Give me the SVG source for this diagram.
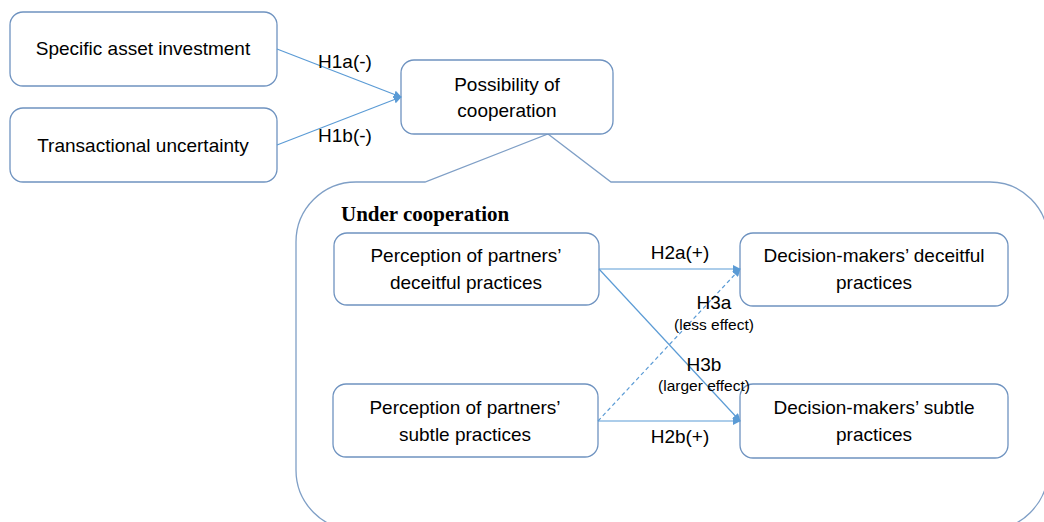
<svg xmlns="http://www.w3.org/2000/svg" width="1044" height="522" viewBox="0 0 1044 522">
<defs>
<marker id="ah" viewBox="0 0 10 10" refX="9" refY="5" markerWidth="8" markerHeight="8" markerUnits="userSpaceOnUse" orient="auto">
<path d="M0,0 L10,5 L0,10 z" fill="#5b9bd5"/>
</marker>
<style>
.box{fill:#fff;stroke:#6f93c0;stroke-width:1.3}
.t{font-family:"Liberation Sans",Arial,sans-serif;font-size:19px;fill:#000;text-anchor:middle}
.s{font-family:"Liberation Sans",Arial,sans-serif;font-size:15.5px;fill:#000;text-anchor:middle}
.c{fill:none;stroke:#5b9bd5;stroke-width:1.2}
</style>
</defs>
<rect width="1044" height="522" fill="#fff"/>
<g id="container">
<path d="M356,182 L425,182 L548,134 L611,182 L990,182 A58,58 0 0 1 1048,240 L1048,470 A60,60 0 0 1 988,530 L356,530 A60,60 0 0 1 296,470 L296,242 A60,60 0 0 1 356,182 Z" fill="none" stroke="#7f9fc6" stroke-width="1.3"/>
<text x="341" y="221" font-family="Liberation Serif,'Times New Roman',serif" font-weight="bold" font-size="21" fill="#000">Under cooperation</text>
</g>
<g id="n1"><rect class="box" x="10" y="12" width="267" height="74" rx="13"/><text class="t" x="143" y="55">Specific asset investment</text></g>
<g id="n2"><rect class="box" x="10" y="108" width="267" height="74" rx="13"/><text class="t" x="143" y="152">Transactional uncertainty</text></g>
<g id="n3"><rect class="box" x="401" y="60" width="212" height="74" rx="13"/><text class="t" x="507" y="91">Possibility of</text><text class="t" x="507" y="117">cooperation</text></g>
<g id="n4"><rect class="box" x="334" y="233" width="265" height="72" rx="13"/><text class="t" x="466" y="262">Perception of partners’</text><text class="t" x="466" y="289">deceitful practices</text></g>
<g id="n5"><rect class="box" x="333" y="384" width="265" height="73" rx="13"/><text class="t" x="465" y="414">Perception of partners’</text><text class="t" x="465" y="441">subtle practices</text></g>
<g id="n6"><rect class="box" x="740" y="233" width="268" height="73" rx="13"/><text class="t" x="874" y="262">Decision-makers’ deceitful</text><text class="t" x="874" y="289">practices</text></g>
<g id="n7"><rect class="box" x="740" y="384" width="268" height="74" rx="13"/><text class="t" x="874" y="414">Decision-makers’ subtle</text><text class="t" x="874" y="441">practices</text></g>
<g id="connectors">
<line class="c" x1="277" y1="49" x2="401" y2="97" marker-end="url(#ah)"/>
<line class="c" x1="277" y1="145" x2="401" y2="97" marker-end="url(#ah)"/>
<line class="c" x1="599" y1="269" x2="740" y2="269" marker-end="url(#ah)"/>
<line class="c" x1="598" y1="421" x2="740" y2="421" marker-end="url(#ah)"/>
<line class="c" x1="599" y1="269" x2="740" y2="421" marker-end="url(#ah)"/>
<line class="c" x1="598" y1="421" x2="740" y2="269" stroke-dasharray="4,3" marker-end="url(#ah)"/>
<text class="t" x="345" y="68">H1a(-)</text>
<text class="t" x="345" y="142">H1b(-)</text>
<text class="t" x="680" y="259">H2a(+)</text>
<text class="t" x="680" y="443">H2b(+)</text>
<text class="t" x="714" y="309">H3a</text>
<text class="s" x="714" y="330">(less effect)</text>
<text class="t" x="704" y="371">H3b</text>
<text class="s" x="704" y="391">(larger effect)</text>
</g>
</svg>
